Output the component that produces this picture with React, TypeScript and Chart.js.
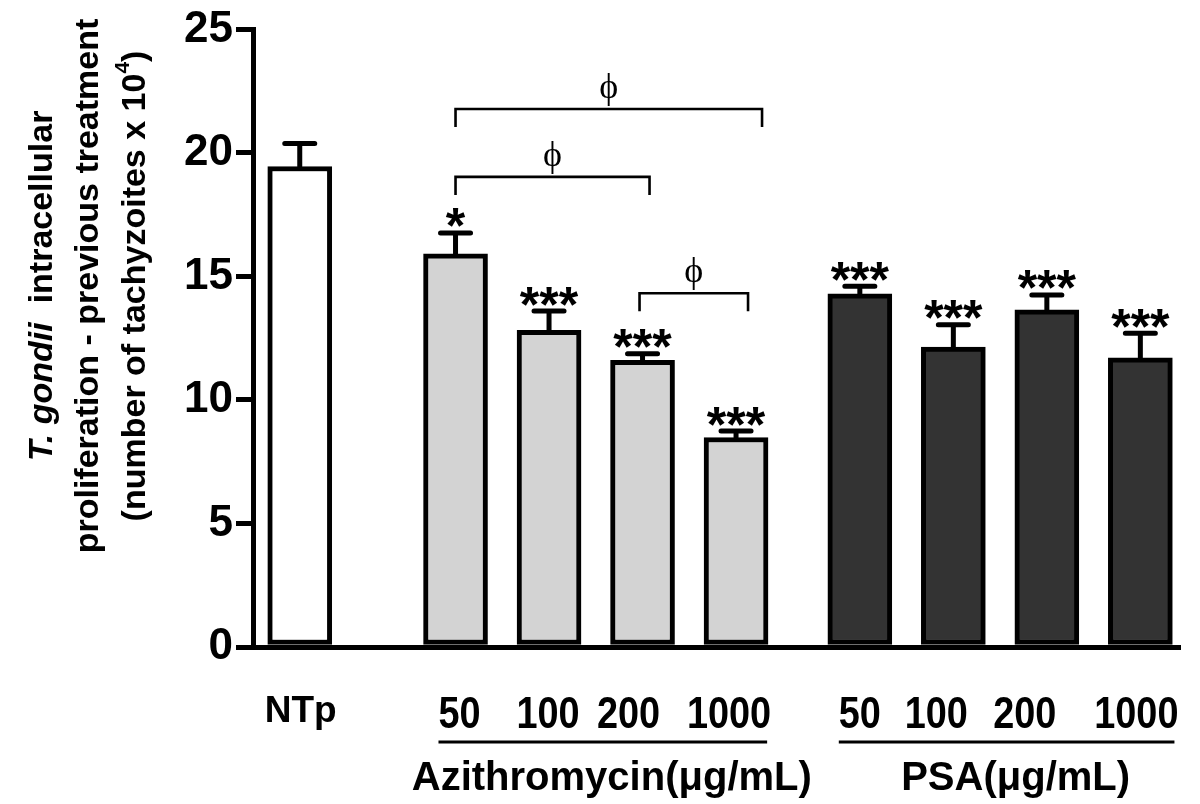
import React, { useEffect, useRef } from 'react';
import { Chart, registerables } from 'chart.js';

Chart.register(...registerables);

// ---------- data ----------
const ntpLabel = 'NTp';
const ntpValue = [19.45];
const ntpError = [0.93];

const doseLabels = ['50', '100', '200', '1000'];

const aziValues = [15.92, 12.82, 11.6, 8.48];
const aziErrors = [0.84, 0.78, 0.27, 0.26];
const aziMarks = ['*', '***', '***', '***'];

const psaValues = [14.3, 12.14, 13.65, 11.71];
const psaErrors = [0.3, 0.9, 0.6, 0.99];
const psaMarks = ['***', '***', '***', '***'];

const groupTitles = ['Azithromycin(\u03bcg/mL)', 'PSA(\u03bcg/mL)'];

const yTickValues = [0, 5, 10, 15, 20, 25];

// comparisons among Azithromycin doses (indices into doseLabels) and bracket level
const comparisonPairs = [[0, 3], [0, 2], [2, 3]];
const comparisonLevels = [21.78, 19.03, 14.32];
const comparisonSymbol = '\u03d5';

// ---------- layout (not data) ----------
const X_MAX = 9.914;
const NTP_POS = 0.5;
const AZI_START = 2.166;
const PSA_START = 6.49;
const BRACKET_NUDGE = [[0, 26], [0, 7], [-3, 12]];
const BRACKET_DROP = 18;
const AZI_LABEL_NUDGE = [4, -1, -14, -7];
const PSA_LABEL_NUDGE = [0, -17, -22, -4];
const FAM = '"Liberation Sans", Arial, Helvetica, sans-serif';

const aziPos = aziValues.map((_, i) => AZI_START + i);
const psaPos = psaValues.map((_, i) => PSA_START + i);

function drawYTitle(ctx: CanvasRenderingContext2D) {
  const size = 34;
  const cy = 286;
  const lines: { t: string; s: string; sup?: boolean }[][] = [
    [{ t: 'T. gondii', s: 'italic bold' }, { t: '  intracellular', s: 'bold' }],
    [{ t: 'proliferation - previous treatment', s: 'bold' }],
    [
      { t: '(number of tachyzoites x 10', s: 'bold' },
      { t: '4', s: 'bold', sup: true },
      { t: ')', s: 'bold' },
    ],
  ];
  const xs = [43, 89, 136];
  lines.forEach((segs, i) => {
    ctx.save();
    ctx.translate(xs[i], cy);
    ctx.rotate(-Math.PI / 2);
    ctx.fillStyle = '#000';
    ctx.textAlign = 'left';
    ctx.textBaseline = 'middle';
    let total = 0;
    const widths = segs.map((sg) => {
      ctx.font = `${sg.s} ${sg.sup ? Math.round(size * 0.62) : size}px ${FAM}`;
      const w = ctx.measureText(sg.t).width;
      total += w;
      return w;
    });
    let cx = -total / 2;
    segs.forEach((sg, j) => {
      ctx.font = `${sg.s} ${sg.sup ? Math.round(size * 0.62) : size}px ${FAM}`;
      ctx.fillText(sg.t, cx, sg.sup ? -size * 0.38 : 0);
      cx += widths[j];
    });
    ctx.restore();
  });
}

const annotations = {
  id: 'annotations',
  afterDatasetsDraw(chart: any) {
    const { ctx } = chart;
    const x = chart.scales.x;
    const y = chart.scales.y;
    ctx.save();

    // error bars (upper only)
    const drawErr = (pos: number, v: number, e: number) => {
      const px = x.getPixelForValue(pos);
      const top = y.getPixelForValue(v);
      const cap = y.getPixelForValue(v + e);
      ctx.strokeStyle = '#000';
      ctx.lineWidth = 5;
      ctx.lineCap = 'round';
      ctx.beginPath();
      ctx.moveTo(px, top);
      ctx.lineTo(px, cap);
      ctx.moveTo(px - 15, cap);
      ctx.lineTo(px + 15, cap);
      ctx.stroke();
      return { px, cap };
    };

    const drawMark = (px: number, cap: number, mark: string) => {
      if (!mark) return;
      ctx.font = `bold 50px ${FAM}`;
      ctx.fillStyle = '#000';
      ctx.textAlign = 'center';
      ctx.textBaseline = 'alphabetic';
      const m = ctx.measureText(mark);
      const cy = cap - 15;
      const base = cy + (m.actualBoundingBoxAscent - m.actualBoundingBoxDescent) / 2;
      ctx.fillText(mark, px, base);
    };

    drawErr(NTP_POS, ntpValue[0], ntpError[0]);
    aziValues.forEach((v, i) => {
      const r = drawErr(aziPos[i], v, aziErrors[i]);
      drawMark(r.px, r.cap, aziMarks[i]);
    });
    psaValues.forEach((v, i) => {
      const r = drawErr(psaPos[i], v, psaErrors[i]);
      drawMark(r.px, r.cap, psaMarks[i]);
    });

    // comparison brackets
    comparisonPairs.forEach(([a, b], k) => {
      const x1 = x.getPixelForValue(aziPos[a]) + BRACKET_NUDGE[k][0];
      const x2 = x.getPixelForValue(aziPos[b]) + BRACKET_NUDGE[k][1];
      const yy = y.getPixelForValue(comparisonLevels[k]);
      ctx.strokeStyle = '#000';
      ctx.lineWidth = 2.6;
      ctx.lineCap = 'butt';
      ctx.lineJoin = 'miter';
      ctx.beginPath();
      ctx.moveTo(x1, yy + BRACKET_DROP);
      ctx.lineTo(x1, yy);
      ctx.lineTo(x2, yy);
      ctx.lineTo(x2, yy + BRACKET_DROP);
      ctx.stroke();
      ctx.font = `36px "Liberation Serif", "DejaVu Serif", "Times New Roman", serif`;
      ctx.fillStyle = '#000';
      ctx.textAlign = 'center';
      ctx.textBaseline = 'alphabetic';
      const m = ctx.measureText(comparisonSymbol);
      ctx.fillText(comparisonSymbol, (x1 + x2) / 2, yy - 3 - m.actualBoundingBoxDescent);
    });

    // x labels
    ctx.fillStyle = '#000';
    ctx.textBaseline = 'alphabetic';
    ctx.textAlign = 'center';
    ctx.font = `bold 37px ${FAM}`;
    ctx.fillText(ntpLabel, x.getPixelForValue(NTP_POS) + 1, 722);

    const groups = [
      { pos: aziPos, nudge: AZI_LABEL_NUDGE, title: groupTitles[0] },
      { pos: psaPos, nudge: PSA_LABEL_NUDGE, title: groupTitles[1] },
    ];
    const SQ = 0.86;
    groups.forEach((g) => {
      ctx.font = `bold 44px ${FAM}`;
      let left = Infinity;
      let right = -Infinity;
      doseLabels.forEach((lab, i) => {
        const cx = x.getPixelForValue(g.pos[i]) + g.nudge[i];
        const w = ctx.measureText(lab).width * SQ;
        left = Math.min(left, cx - w / 2);
        right = Math.max(right, cx + w / 2);
        ctx.save();
        ctx.translate(cx, 728);
        ctx.scale(SQ, 1);
        ctx.textAlign = 'center';
        ctx.fillText(lab, 0, 0);
        ctx.restore();
      });
      ctx.strokeStyle = '#000';
      ctx.lineWidth = 3;
      ctx.beginPath();
      ctx.moveTo(left, 742);
      ctx.lineTo(right - 4, 742);
      ctx.stroke();
      ctx.font = `bold 40px ${FAM}`;
      ctx.textAlign = 'center';
      ctx.fillText(g.title, (left + right) / 2 + 7, 790);
    });

    drawYTitle(ctx);
    ctx.restore();
  },
};

export default function App() {
  const ref = useRef<HTMLCanvasElement | null>(null);

  useEffect(() => {
    document.body.style.margin = '0';
    const canvas = ref.current;
    if (!canvas) return;
    const common = {
      borderColor: '#000000',
      borderWidth: 5,
      borderSkipped: false,
      barThickness: 64,
      grouped: false,
    };
    const chart = new Chart(canvas, {
      type: 'bar',
      data: {
        datasets: [
          {
            label: ntpLabel,
            data: ntpValue.map((v) => ({ x: NTP_POS, y: v })),
            backgroundColor: '#ffffff',
            ...common,
          },
          {
            label: groupTitles[0],
            data: aziValues.map((v, i) => ({ x: aziPos[i], y: v })),
            backgroundColor: '#d3d3d3',
            ...common,
          },
          {
            label: groupTitles[1],
            data: psaValues.map((v, i) => ({ x: psaPos[i], y: v })),
            backgroundColor: '#333333',
            ...common,
          },
        ] as any,
      },
      options: {
        responsive: false,
        animation: false,
        devicePixelRatio: 1,
        layout: { padding: { left: 0, top: 25, right: 20, bottom: 0 } },
        plugins: {
          legend: { display: false },
          tooltip: { enabled: false },
        },
        scales: {
          x: {
            type: 'linear',
            min: 0,
            max: X_MAX,
            offset: false,
            ticks: { display: false },
            grid: { display: false, offset: false },
            border: { display: true, color: '#000', width: 5 },
            afterFit: (s: any) => {
              s.height = 157;
            },
          },
          y: {
            min: 0,
            max: 25,
            afterBuildTicks: (s: any) => {
              s.ticks = yTickValues.map((v) => ({ value: v }));
            },
            ticks: {
              color: '#000',
              padding: 3,
              font: { family: FAM, size: 44, weight: 'bold' },
            },
            grid: {
              drawOnChartArea: false,
              drawTicks: true,
              tickLength: 17,
              tickWidth: 5,
              lineWidth: 5,
              tickColor: '#000',
              color: '#000',
            },
            border: { display: true, color: '#000', width: 5 },
            afterFit: (s: any) => {
              s.width = 253;
            },
          },
        },
      } as any,
      plugins: [annotations],
    });
    return () => chart.destroy();
  }, []);

  return (
    <div style={{ width: 1200, height: 804, background: '#fff' }}>
      <canvas ref={ref} width={1200} height={804} style={{ width: 1200, height: 804, display: 'block' }} />
    </div>
  );
}
